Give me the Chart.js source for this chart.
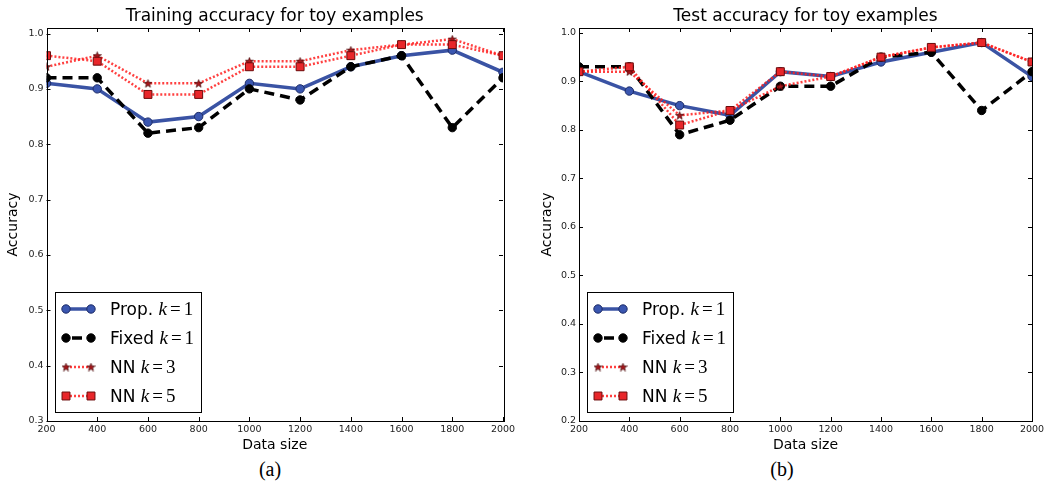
<!DOCTYPE html>
<html>
<head>
<meta charset="utf-8">
<title>Toy examples accuracy</title>
<script src="https://cdn.jsdelivr.net/npm/chart.js@4.4.1/dist/chart.umd.min.js"></script>
<style>
  body { margin: 0; background: #fff; width: 1050px; height: 488px; overflow: hidden; position: relative; }
  .panel { position: absolute; top: 0; width: 525px; height: 455px; }
  .cap { position: absolute; top: 458px; width: 60px; text-align: center;
         font-family: "Liberation Serif", serif; font-size: 20px; color: #000; }
</style>
</head>
<body>
<div class="panel" style="left:0"><canvas id="train" width="525" height="455"></canvas></div>
<div class="panel" style="left:525px"><canvas id="test" width="525" height="455"></canvas></div>
<div class="cap" style="left:240px">(a)</div>
<div class="cap" style="left:752px">(b)</div>
<script>
var sizes = [200, 400, 600, 800, 1000, 1200, 1400, 1600, 1800, 2000];

// training accuracy
var trainProp  = [0.91, 0.90, 0.84, 0.85, 0.91, 0.90, 0.94, 0.96, 0.97, 0.93];
var trainFixed = [0.92, 0.92, 0.82, 0.83, 0.90, 0.88, 0.94, 0.96, 0.83, 0.92];
var trainNN3   = [0.94, 0.96, 0.91, 0.91, 0.95, 0.95, 0.97, 0.98, 0.99, 0.96];
var trainNN5   = [0.96, 0.95, 0.89, 0.89, 0.94, 0.94, 0.96, 0.98, 0.98, 0.96];

// test accuracy
var testProp  = [0.92, 0.88, 0.85, 0.83, 0.92, 0.91, 0.94, 0.96, 0.98, 0.91];
var testFixed = [0.93, 0.93, 0.79, 0.82, 0.89, 0.89, 0.95, 0.96, 0.84, 0.92];
var testNN3   = [0.92, 0.92, 0.83, 0.84, 0.89, 0.91, 0.95, 0.97, 0.98, 0.94];
var testNN5   = [0.92, 0.93, 0.81, 0.84, 0.92, 0.91, 0.95, 0.97, 0.98, 0.94];

var seriesNames = ['Prop.', 'Fixed', 'NN', 'NN'];
var seriesK     = ['1', '1', '3', '5'];

var SANS = '"DejaVu Sans", sans-serif';
var SERIF = '"Liberation Serif", serif';

// little filled star for the k=3 markers
function makeStar() {
  var c = document.createElement('canvas');
  c.width = 9; c.height = 9;
  var g = c.getContext('2d');
  g.beginPath();
  for (var i = 0; i < 10; i++) {
    var r = (i % 2 == 0) ? 4.2 : 1.7;
    var a = -Math.PI / 2 + i * Math.PI / 5;
    var px = 4.5 + r * Math.cos(a), py = 4.9 + r * Math.sin(a);
    if (i == 0) g.moveTo(px, py); else g.lineTo(px, py);
  }
  g.closePath();
  g.fillStyle = '#a8161b';
  g.fill();
  g.strokeStyle = '#400000';
  g.lineWidth = 0.7;
  g.stroke();
  return c;
}
var starImg = makeStar();

function pts(vals) {
  return sizes.map(function(s, i) { return { x: s, y: vals[i] }; });
}

function makeDatasets(prop, fixed, nn3, nn5) {
  return [
    { label: 'Prop. k=1', data: pts(prop), order: 4, clip: 0,
      borderColor: '#3a53a4', borderWidth: 3.5,
      pointStyle: 'circle', pointRadius: 4.2, pointBorderWidth: 1,
      pointBackgroundColor: '#3a56b0', pointBorderColor: '#1c2b66' },
    { label: 'Fixed k=1', data: pts(fixed), order: 3, clip: 0,
      borderColor: '#000', borderWidth: 3.5, borderDash: [10, 6],
      pointStyle: 'circle', pointRadius: 4.2, pointBorderWidth: 1,
      pointBackgroundColor: '#000', pointBorderColor: '#000' },
    { label: 'NN k=3', data: pts(nn3), order: 2, clip: 0,
      borderColor: 'rgba(255,30,30,0.85)', borderWidth: 2.5, borderDash: [2, 2],
      pointStyle: starImg, pointRadius: 5, pointBorderWidth: 0,
      pointBackgroundColor: '#a8161b', pointBorderColor: '#400000' },
    { label: 'NN k=5', data: pts(nn5), order: 1, clip: 0,
      borderColor: 'rgba(255,30,30,0.85)', borderWidth: 2.5, borderDash: [2, 2],
      pointStyle: 'rect', pointRadius: 5.6, pointBorderWidth: 1,
      pointBackgroundColor: '#e8262a', pointBorderColor: '#6b0a0a' }
  ];
}

// box, inward tick marks and the legend, all drawn over the plot
var axesPlugin = {
  id: 'axesBox',
  afterDraw: function(chart) {
    var ctx = chart.ctx, a = chart.chartArea;
    var xs = chart.scales.x, ys = chart.scales.y;
    ctx.save();
    ctx.strokeStyle = '#000';
    ctx.lineWidth = 1;
    ctx.strokeRect(Math.round(a.left) + 0.5, Math.round(a.top) + 0.5,
                   Math.round(a.right - a.left), Math.round(a.bottom - a.top));
    ctx.beginPath();
    xs.ticks.forEach(function(t) {
      var px = Math.round(xs.getPixelForValue(t.value)) + 0.5;
      ctx.moveTo(px, a.bottom); ctx.lineTo(px, a.bottom - 4);
      ctx.moveTo(px, a.top); ctx.lineTo(px, a.top + 4);
    });
    ys.ticks.forEach(function(t) {
      var py = Math.round(ys.getPixelForValue(t.value)) + 0.5;
      ctx.moveTo(a.left, py); ctx.lineTo(a.left + 4, py);
      ctx.moveTo(a.right, py); ctx.lineTo(a.right - 4, py);
    });
    ctx.stroke();

    // legend
    var bw = 146, bh = 120;
    var bx = Math.round(a.left + 8), by = Math.round(a.bottom - 9 - bh);
    ctx.fillStyle = '#fff';
    ctx.fillRect(bx, by, bw, bh);
    ctx.strokeRect(bx + 0.5, by + 0.5, bw, bh);
    chart.data.datasets.forEach(function(ds, i) {
      var y = by + 17 + i * 29;
      var x0 = bx + 11, x1 = bx + 36;
      ctx.save();
      ctx.strokeStyle = ds.borderColor;
      ctx.lineWidth = ds.borderWidth;
      ctx.setLineDash(ds.borderDash || []);
      if (ds.borderDash && ds.borderDash[0] > 5) ctx.lineDashOffset = -6;
      ctx.beginPath(); ctx.moveTo(x0, y); ctx.lineTo(x1, y); ctx.stroke();
      ctx.restore();
      ctx.save();
      ctx.fillStyle = ds.pointBackgroundColor;
      ctx.strokeStyle = ds.pointBorderColor;
      ctx.lineWidth = ds.pointBorderWidth;
      [x0, x1].forEach(function(px) {
        Chart.helpers.drawPoint(ctx, { pointStyle: ds.pointStyle, radius: ds.pointRadius,
          borderWidth: ds.pointBorderWidth, rotation: 0 }, px, y);
      });
      ctx.restore();

      var parts = [
        { t: seriesNames[i] + ' ', f: '17px ' + SANS, gap: 0 },
        { t: 'k', f: 'italic 19px ' + SERIF, gap: 3 },
        { t: '=', f: '19px ' + SERIF, gap: 3 },
        { t: seriesK[i], f: '19px ' + SERIF, gap: 0 }
      ];
      var tx = bx + 55;
      ctx.fillStyle = '#000';
      ctx.textBaseline = 'alphabetic';
      ctx.textAlign = 'left';
      parts.forEach(function(p) {
        ctx.font = p.f;
        ctx.fillText(p.t, tx, y + 6);
        tx += ctx.measureText(p.t).width + p.gap;
      });
    });
    ctx.restore();
  }
};

function makeChart(id, title, yMin, yAxisWidth, yTitlePad, rightPad, datasets) {
  return new Chart(document.getElementById(id), {
    type: 'line',
    data: { datasets: datasets },
    options: {
      responsive: false,
      animation: false,
      devicePixelRatio: 1,
      events: [],
      layout: { padding: { left: 0, right: rightPad, top: 0, bottom: 0 } },
      plugins: {
        legend: { display: false },
        tooltip: { enabled: false },
        title: {
          display: true, text: title, fullSize: false, color: '#000',
          font: { family: SANS, size: 17, weight: 'normal', lineHeight: 22 / 17 },
          padding: { top: 6, bottom: 0 }
        }
      },
      scales: {
        x: {
          type: 'linear', min: 200, max: 2000,
          grid: { display: false, drawTicks: false },
          border: { display: false },
          ticks: { stepSize: 200, color: '#222', padding: 3,
                   font: { family: SANS, size: 9.5 },
                   callback: function(v) { return String(v); } },
          title: { display: true, text: 'Data size', color: '#000',
                   font: { family: SANS, size: 14 }, padding: { top: 0, bottom: 1 } },
          afterFit: function(s) { s.height = 34; }
        },
        y: {
          min: yMin, max: 1.01,
          grid: { display: false, drawTicks: false },
          border: { display: false },
          ticks: { stepSize: 0.1, includeBounds: false, color: '#222', padding: 3,
                   font: { family: SANS, size: 9.5 },
                   callback: function(v) { return v.toFixed(1); } },
          title: { display: true, text: 'Accuracy', color: '#000',
                   font: { family: SANS, size: 14 }, padding: { top: yTitlePad, bottom: 0 } },
          afterFit: function(s) { s.width = yAxisWidth; }
        }
      }
    },
    plugins: [axesPlugin]
  });
}

makeChart('train', 'Training accuracy for toy examples', 0.3, 46.5, 5, 22,
  makeDatasets(trainProp, trainFixed, trainNN3, trainNN5));
makeChart('test', 'Test accuracy for toy examples', 0.2, 54, 13.5, 18,
  makeDatasets(testProp, testFixed, testNN3, testNN5));
</script>
</body>
</html>
